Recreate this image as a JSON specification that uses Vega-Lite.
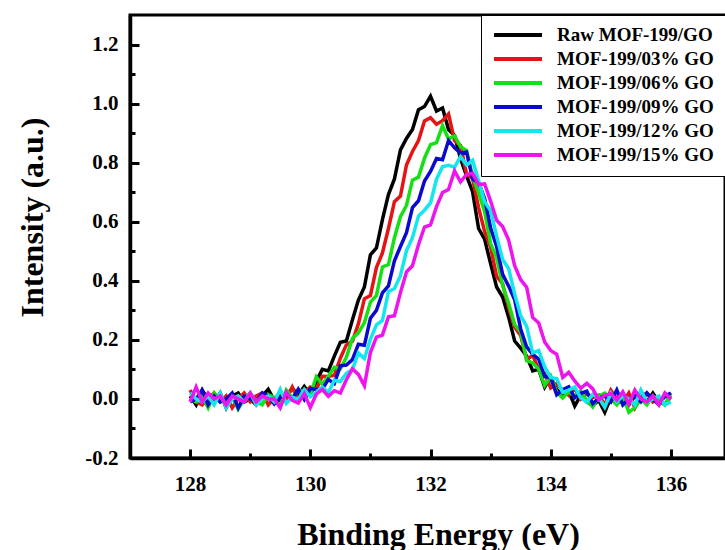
{
"$schema": "https://vega.github.io/schema/vega-lite/v6.json",
"width": 595,
"height": 443,
"autosize": {"type": "none"},
"padding": {"left": 130, "top": 15, "right": 0, "bottom": 92},
"background": "white",
"config": {"view": {"stroke": "black", "strokeWidth": 3}, "font": "Liberation Serif"},
"data": {"values": [
{"x":128.0,"Raw MOF-199/GO":0.01,"MOF-199/03% GO":0.03,"MOF-199/06% GO":0,"MOF-199/09% GO":-0.01,"MOF-199/12% GO":0.02,"MOF-199/15% GO":-0.01},
{"x":128.1,"Raw MOF-199/GO":-0.02,"MOF-199/03% GO":-0.01,"MOF-199/06% GO":-0.01,"MOF-199/09% GO":0,"MOF-199/12% GO":0,"MOF-199/15% GO":0.04},
{"x":128.2,"Raw MOF-199/GO":0.03,"MOF-199/03% GO":-0.02,"MOF-199/06% GO":0.01,"MOF-199/09% GO":0.03,"MOF-199/12% GO":-0.01,"MOF-199/15% GO":-0.01},
{"x":128.3,"Raw MOF-199/GO":0,"MOF-199/03% GO":0,"MOF-199/06% GO":-0.03,"MOF-199/09% GO":-0.02,"MOF-199/12% GO":0.01,"MOF-199/15% GO":0.02},
{"x":128.4,"Raw MOF-199/GO":-0.01,"MOF-199/03% GO":0.02,"MOF-199/06% GO":0.02,"MOF-199/09% GO":0.01,"MOF-199/12% GO":-0.02,"MOF-199/15% GO":0},
{"x":128.5,"Raw MOF-199/GO":0.02,"MOF-199/03% GO":-0.01,"MOF-199/06% GO":0,"MOF-199/09% GO":-0.01,"MOF-199/12% GO":0.02,"MOF-199/15% GO":0.01},
{"x":128.6,"Raw MOF-199/GO":-0.03,"MOF-199/03% GO":0.01,"MOF-199/06% GO":-0.01,"MOF-199/09% GO":0,"MOF-199/12% GO":-0.03,"MOF-199/15% GO":-0.02},
{"x":128.7,"Raw MOF-199/GO":0.01,"MOF-199/03% GO":-0.03,"MOF-199/06% GO":0.01,"MOF-199/09% GO":0.02,"MOF-199/12% GO":0,"MOF-199/15% GO":0.01},
{"x":128.8,"Raw MOF-199/GO":0.02,"MOF-199/03% GO":0,"MOF-199/06% GO":-0.035,"MOF-199/09% GO":-0.03,"MOF-199/12% GO":0.01,"MOF-199/15% GO":0},
{"x":128.9,"Raw MOF-199/GO":-0.01,"MOF-199/03% GO":0.02,"MOF-199/06% GO":0,"MOF-199/09% GO":0.01,"MOF-199/12% GO":-0.01,"MOF-199/15% GO":-0.01},
{"x":129.0,"Raw MOF-199/GO":0,"MOF-199/03% GO":-0.01,"MOF-199/06% GO":0.02,"MOF-199/09% GO":0,"MOF-199/12% GO":0.02,"MOF-199/15% GO":0.02},
{"x":129.1,"Raw MOF-199/GO":-0.02,"MOF-199/03% GO":0.01,"MOF-199/06% GO":-0.01,"MOF-199/09% GO":-0.01,"MOF-199/12% GO":-0.02,"MOF-199/15% GO":-0.01},
{"x":129.2,"Raw MOF-199/GO":0.01,"MOF-199/03% GO":0.02,"MOF-199/06% GO":-0.02,"MOF-199/09% GO":0.02,"MOF-199/12% GO":0,"MOF-199/15% GO":0.01},
{"x":129.3,"Raw MOF-199/GO":0.033,"MOF-199/03% GO":-0.02,"MOF-199/06% GO":0.014,"MOF-199/09% GO":0.01,"MOF-199/12% GO":0.01,"MOF-199/15% GO":0},
{"x":129.4,"Raw MOF-199/GO":-0.005,"MOF-199/03% GO":0.003,"MOF-199/06% GO":0.005,"MOF-199/09% GO":-0.017,"MOF-199/12% GO":-0.01,"MOF-199/15% GO":0},
{"x":129.5,"Raw MOF-199/GO":-0.012,"MOF-199/03% GO":0.015,"MOF-199/06% GO":-0.023,"MOF-199/09% GO":0.005,"MOF-199/12% GO":0.033,"MOF-199/15% GO":-0.03},
{"x":129.6,"Raw MOF-199/GO":0.011,"MOF-199/03% GO":-0.002,"MOF-199/06% GO":0.03,"MOF-199/09% GO":0.017,"MOF-199/12% GO":-0.015,"MOF-199/15% GO":0.023},
{"x":129.7,"Raw MOF-199/GO":0.036,"MOF-199/03% GO":0.04,"MOF-199/06% GO":0.004,"MOF-199/09% GO":-0.001,"MOF-199/12% GO":0.006,"MOF-199/15% GO":-0.005},
{"x":129.8,"Raw MOF-199/GO":0.013,"MOF-199/03% GO":-0.005,"MOF-199/06% GO":0.029,"MOF-199/09% GO":0.033,"MOF-199/12% GO":-0.001,"MOF-199/15% GO":-0.014},
{"x":129.9,"Raw MOF-199/GO":0.042,"MOF-199/03% GO":0.022,"MOF-199/06% GO":0.026,"MOF-199/09% GO":-0.002,"MOF-199/12% GO":0.032,"MOF-199/15% GO":0.018},
{"x":130.0,"Raw MOF-199/GO":0.014,"MOF-199/03% GO":0.04,"MOF-199/06% GO":0.014,"MOF-199/09% GO":0.035,"MOF-199/12% GO":0.007,"MOF-199/15% GO":-0.029},
{"x":130.1,"Raw MOF-199/GO":0.06,"MOF-199/03% GO":0.032,"MOF-199/06% GO":0.075,"MOF-199/09% GO":0.032,"MOF-199/12% GO":0.023,"MOF-199/15% GO":0.016},
{"x":130.2,"Raw MOF-199/GO":0.1,"MOF-199/03% GO":0.077,"MOF-199/06% GO":0.049,"MOF-199/09% GO":0.033,"MOF-199/12% GO":0.041,"MOF-199/15% GO":0.032},
{"x":130.3,"Raw MOF-199/GO":0.095,"MOF-199/03% GO":0.076,"MOF-199/06% GO":0.077,"MOF-199/09% GO":0.066,"MOF-199/12% GO":0.021,"MOF-199/15% GO":0.009},
{"x":130.4,"Raw MOF-199/GO":0.145,"MOF-199/03% GO":0.08,"MOF-199/06% GO":0.107,"MOF-199/09% GO":0.052,"MOF-199/12% GO":0.063,"MOF-199/15% GO":0.028},
{"x":130.5,"Raw MOF-199/GO":0.192,"MOF-199/03% GO":0.138,"MOF-199/06% GO":0.102,"MOF-199/09% GO":0.112,"MOF-199/12% GO":0.059,"MOF-199/15% GO":0.02},
{"x":130.6,"Raw MOF-199/GO":0.196,"MOF-199/03% GO":0.183,"MOF-199/06% GO":0.141,"MOF-199/09% GO":0.115,"MOF-199/12% GO":0.087,"MOF-199/15% GO":0.065},
{"x":130.7,"Raw MOF-199/GO":0.267,"MOF-199/03% GO":0.195,"MOF-199/06% GO":0.205,"MOF-199/09% GO":0.133,"MOF-199/12% GO":0.099,"MOF-199/15% GO":0.102},
{"x":130.8,"Raw MOF-199/GO":0.335,"MOF-199/03% GO":0.254,"MOF-199/06% GO":0.224,"MOF-199/09% GO":0.185,"MOF-199/12% GO":0.156,"MOF-199/15% GO":0.083},
{"x":130.9,"Raw MOF-199/GO":0.379,"MOF-199/03% GO":0.339,"MOF-199/06% GO":0.258,"MOF-199/09% GO":0.182,"MOF-199/12% GO":0.137,"MOF-199/15% GO":0.045},
{"x":131.0,"Raw MOF-199/GO":0.488,"MOF-199/03% GO":0.35,"MOF-199/06% GO":0.328,"MOF-199/09% GO":0.273,"MOF-199/12% GO":0.202,"MOF-199/15% GO":0.157},
{"x":131.1,"Raw MOF-199/GO":0.511,"MOF-199/03% GO":0.445,"MOF-199/06% GO":0.35,"MOF-199/09% GO":0.3,"MOF-199/12% GO":0.251,"MOF-199/15% GO":0.209},
{"x":131.2,"Raw MOF-199/GO":0.607,"MOF-199/03% GO":0.494,"MOF-199/06% GO":0.447,"MOF-199/09% GO":0.359,"MOF-199/12% GO":0.266,"MOF-199/15% GO":0.216},
{"x":131.3,"Raw MOF-199/GO":0.692,"MOF-199/03% GO":0.577,"MOF-199/06% GO":0.455,"MOF-199/09% GO":0.383,"MOF-199/12% GO":0.363,"MOF-199/15% GO":0.278},
{"x":131.4,"Raw MOF-199/GO":0.745,"MOF-199/03% GO":0.668,"MOF-199/06% GO":0.546,"MOF-199/09% GO":0.468,"MOF-199/12% GO":0.374,"MOF-199/15% GO":0.282},
{"x":131.5,"Raw MOF-199/GO":0.843,"MOF-199/03% GO":0.687,"MOF-199/06% GO":0.617,"MOF-199/09% GO":0.516,"MOF-199/12% GO":0.417,"MOF-199/15% GO":0.36},
{"x":131.6,"Raw MOF-199/GO":0.882,"MOF-199/03% GO":0.792,"MOF-199/06% GO":0.655,"MOF-199/09% GO":0.563,"MOF-199/12% GO":0.502,"MOF-199/15% GO":0.43},
{"x":131.7,"Raw MOF-199/GO":0.912,"MOF-199/03% GO":0.838,"MOF-199/06% GO":0.741,"MOF-199/09% GO":0.648,"MOF-199/12% GO":0.546,"MOF-199/15% GO":0.451},
{"x":131.8,"Raw MOF-199/GO":0.979,"MOF-199/03% GO":0.875,"MOF-199/06% GO":0.751,"MOF-199/09% GO":0.671,"MOF-199/12% GO":0.619,"MOF-199/15% GO":0.522},
{"x":131.9,"Raw MOF-199/GO":0.99,"MOF-199/03% GO":0.941,"MOF-199/06% GO":0.815,"MOF-199/09% GO":0.738,"MOF-199/12% GO":0.639,"MOF-199/15% GO":0.582},
{"x":132.0,"Raw MOF-199/GO":1.025,"MOF-199/03% GO":0.952,"MOF-199/06% GO":0.861,"MOF-199/09% GO":0.77,"MOF-199/12% GO":0.664,"MOF-199/15% GO":0.589},
{"x":132.1,"Raw MOF-199/GO":0.975,"MOF-199/03% GO":0.93,"MOF-199/06% GO":0.868,"MOF-199/09% GO":0.814,"MOF-199/12% GO":0.744,"MOF-199/15% GO":0.651},
{"x":132.2,"Raw MOF-199/GO":0.985,"MOF-199/03% GO":0.942,"MOF-199/06% GO":0.925,"MOF-199/09% GO":0.81,"MOF-199/12% GO":0.786,"MOF-199/15% GO":0.699},
{"x":132.3,"Raw MOF-199/GO":0.912,"MOF-199/03% GO":0.965,"MOF-199/06% GO":0.88,"MOF-199/09% GO":0.875,"MOF-199/12% GO":0.791,"MOF-199/15% GO":0.709},
{"x":132.4,"Raw MOF-199/GO":0.892,"MOF-199/03% GO":0.875,"MOF-199/06% GO":0.891,"MOF-199/09% GO":0.85,"MOF-199/12% GO":0.785,"MOF-199/15% GO":0.772},
{"x":132.5,"Raw MOF-199/GO":0.813,"MOF-199/03% GO":0.858,"MOF-199/06% GO":0.854,"MOF-199/09% GO":0.832,"MOF-199/12% GO":0.82,"MOF-199/15% GO":0.735},
{"x":132.6,"Raw MOF-199/GO":0.755,"MOF-199/03% GO":0.762,"MOF-199/06% GO":0.841,"MOF-199/09% GO":0.836,"MOF-199/12% GO":0.792,"MOF-199/15% GO":0.76},
{"x":132.7,"Raw MOF-199/GO":0.702,"MOF-199/03% GO":0.747,"MOF-199/06% GO":0.754,"MOF-199/09% GO":0.745,"MOF-199/12% GO":0.808,"MOF-199/15% GO":0.764},
{"x":132.8,"Raw MOF-199/GO":0.577,"MOF-199/03% GO":0.648,"MOF-199/06% GO":0.698,"MOF-199/09% GO":0.732,"MOF-199/12% GO":0.739,"MOF-199/15% GO":0.726},
{"x":132.9,"Raw MOF-199/GO":0.541,"MOF-199/03% GO":0.567,"MOF-199/06% GO":0.634,"MOF-199/09% GO":0.679,"MOF-199/12% GO":0.668,"MOF-199/15% GO":0.728},
{"x":133.0,"Raw MOF-199/GO":0.458,"MOF-199/03% GO":0.514,"MOF-199/06% GO":0.526,"MOF-199/09% GO":0.579,"MOF-199/12% GO":0.638,"MOF-199/15% GO":0.67},
{"x":133.1,"Raw MOF-199/GO":0.379,"MOF-199/03% GO":0.415,"MOF-199/06% GO":0.478,"MOF-199/09% GO":0.516,"MOF-199/12% GO":0.551,"MOF-199/15% GO":0.605},
{"x":133.2,"Raw MOF-199/GO":0.345,"MOF-199/03% GO":0.39,"MOF-199/06% GO":0.384,"MOF-199/09% GO":0.422,"MOF-199/12% GO":0.472,"MOF-199/15% GO":0.584},
{"x":133.3,"Raw MOF-199/GO":0.277,"MOF-199/03% GO":0.309,"MOF-199/06% GO":0.324,"MOF-199/09% GO":0.382,"MOF-199/12% GO":0.441,"MOF-199/15% GO":0.538},
{"x":133.4,"Raw MOF-199/GO":0.196,"MOF-199/03% GO":0.244,"MOF-199/06% GO":0.252,"MOF-199/09% GO":0.336,"MOF-199/12% GO":0.355,"MOF-199/15% GO":0.451},
{"x":133.5,"Raw MOF-199/GO":0.172,"MOF-199/03% GO":0.215,"MOF-199/06% GO":0.227,"MOF-199/09% GO":0.237,"MOF-199/12% GO":0.282,"MOF-199/15% GO":0.404},
{"x":133.6,"Raw MOF-199/GO":0.145,"MOF-199/03% GO":0.133,"MOF-199/06% GO":0.13,"MOF-199/09% GO":0.176,"MOF-199/12% GO":0.246,"MOF-199/15% GO":0.378},
{"x":133.7,"Raw MOF-199/GO":0.095,"MOF-199/03% GO":0.148,"MOF-199/06% GO":0.122,"MOF-199/09% GO":0.151,"MOF-199/12% GO":0.156,"MOF-199/15% GO":0.276},
{"x":133.8,"Raw MOF-199/GO":0.1,"MOF-199/03% GO":0.1,"MOF-199/06% GO":0.101,"MOF-199/09% GO":0.135,"MOF-199/12% GO":0.164,"MOF-199/15% GO":0.257},
{"x":133.9,"Raw MOF-199/GO":0.04,"MOF-199/03% GO":0.086,"MOF-199/06% GO":0.046,"MOF-199/09% GO":0.076,"MOF-199/12% GO":0.109,"MOF-199/15% GO":0.193},
{"x":134.0,"Raw MOF-199/GO":0.074,"MOF-199/03% GO":0.037,"MOF-199/06% GO":0.077,"MOF-199/09% GO":0.072,"MOF-199/12% GO":0.072,"MOF-199/15% GO":0.164},
{"x":134.1,"Raw MOF-199/GO":0.032,"MOF-199/03% GO":0.052,"MOF-199/06% GO":0.023,"MOF-199/09% GO":0.014,"MOF-199/12% GO":0.069,"MOF-199/15% GO":0.151},
{"x":134.2,"Raw MOF-199/GO":0.013,"MOF-199/03% GO":0.03,"MOF-199/06% GO":0.003,"MOF-199/09% GO":0.031,"MOF-199/12% GO":0.022,"MOF-199/15% GO":0.073},
{"x":134.3,"Raw MOF-199/GO":0.026,"MOF-199/03% GO":0.012,"MOF-199/06% GO":0.025,"MOF-199/09% GO":0.041,"MOF-199/12% GO":0.03,"MOF-199/15% GO":0.09},
{"x":134.4,"Raw MOF-199/GO":-0.024,"MOF-199/03% GO":0.035,"MOF-199/06% GO":0.01,"MOF-199/09% GO":0.004,"MOF-199/12% GO":0.04,"MOF-199/15% GO":0.061},
{"x":134.5,"Raw MOF-199/GO":0.013,"MOF-199/03% GO":0,"MOF-199/06% GO":0.026,"MOF-199/09% GO":0.019,"MOF-199/12% GO":0.004,"MOF-199/15% GO":0.036},
{"x":134.6,"Raw MOF-199/GO":-0.01,"MOF-199/03% GO":0.018,"MOF-199/06% GO":-0.005,"MOF-199/09% GO":0.026,"MOF-199/12% GO":-0.011,"MOF-199/15% GO":0.053},
{"x":134.7,"Raw MOF-199/GO":-0.022,"MOF-199/03% GO":0.005,"MOF-199/06% GO":-0.027,"MOF-199/09% GO":-0.016,"MOF-199/12% GO":0.016,"MOF-199/15% GO":0.034},
{"x":134.8,"Raw MOF-199/GO":-0.005,"MOF-199/03% GO":0.013,"MOF-199/06% GO":0.01,"MOF-199/09% GO":0.003,"MOF-199/12% GO":0.004,"MOF-199/15% GO":-0.003},
{"x":134.9,"Raw MOF-199/GO":-0.045,"MOF-199/03% GO":-0.02,"MOF-199/06% GO":0.02,"MOF-199/09% GO":0.01,"MOF-199/12% GO":-0.028,"MOF-199/15% GO":0.012},
{"x":135.0,"Raw MOF-199/GO":0.005,"MOF-199/03% GO":0.03,"MOF-199/06% GO":0,"MOF-199/09% GO":-0.01,"MOF-199/12% GO":0.02,"MOF-199/15% GO":0.018},
{"x":135.1,"Raw MOF-199/GO":-0.015,"MOF-199/03% GO":0,"MOF-199/06% GO":-0.02,"MOF-199/09% GO":0.03,"MOF-199/12% GO":-0.01,"MOF-199/15% GO":-0.004},
{"x":135.2,"Raw MOF-199/GO":-0.005,"MOF-199/03% GO":-0.01,"MOF-199/06% GO":0.01,"MOF-199/09% GO":-0.02,"MOF-199/12% GO":0.01,"MOF-199/15% GO":0.024},
{"x":135.3,"Raw MOF-199/GO":-0.02,"MOF-199/03% GO":0.02,"MOF-199/06% GO":-0.045,"MOF-199/09% GO":0,"MOF-199/12% GO":0,"MOF-199/15% GO":-0.018},
{"x":135.4,"Raw MOF-199/GO":0.01,"MOF-199/03% GO":-0.03,"MOF-199/06% GO":-0.03,"MOF-199/09% GO":0.01,"MOF-199/12% GO":-0.02,"MOF-199/15% GO":0.03},
{"x":135.5,"Raw MOF-199/GO":0,"MOF-199/03% GO":0.01,"MOF-199/06% GO":0,"MOF-199/09% GO":-0.01,"MOF-199/12% GO":0.03,"MOF-199/15% GO":0},
{"x":135.6,"Raw MOF-199/GO":-0.01,"MOF-199/03% GO":0.02,"MOF-199/06% GO":-0.02,"MOF-199/09% GO":0.02,"MOF-199/12% GO":-0.01,"MOF-199/15% GO":-0.01},
{"x":135.7,"Raw MOF-199/GO":0.02,"MOF-199/03% GO":-0.01,"MOF-199/06% GO":0.01,"MOF-199/09% GO":0,"MOF-199/12% GO":0,"MOF-199/15% GO":0.01},
{"x":135.8,"Raw MOF-199/GO":-0.01,"MOF-199/03% GO":0,"MOF-199/06% GO":-0.01,"MOF-199/09% GO":-0.02,"MOF-199/12% GO":0.01,"MOF-199/15% GO":-0.02},
{"x":135.9,"Raw MOF-199/GO":0.01,"MOF-199/03% GO":-0.02,"MOF-199/06% GO":-0.02,"MOF-199/09% GO":0.01,"MOF-199/12% GO":-0.02,"MOF-199/15% GO":0.02},
{"x":136.0,"Raw MOF-199/GO":0,"MOF-199/03% GO":0.01,"MOF-199/06% GO":0.02,"MOF-199/09% GO":0.02,"MOF-199/12% GO":-0.01,"MOF-199/15% GO":0}
]},
"transform": [{"fold": ["Raw MOF-199/GO","MOF-199/03% GO","MOF-199/06% GO","MOF-199/09% GO","MOF-199/12% GO","MOF-199/15% GO"], "as": ["series","intensity"]}],
"layer": [
{
"mark": {"type": "line", "strokeWidth": 3.5, "clip": true},
"encoding": {
"x": {"field": "x", "type": "quantitative", "scale": {"domain": [127, 136.9], "nice": false, "zero": false},
"axis": {"orient": "bottom", "values": [128,130,132,134,136], "ticks": false, "grid": false, "domainColor": "black", "domainWidth": 3.5, "labelFont": "Liberation Serif", "labelFontSize": 21, "labelFontWeight": "bold", "labelColor": "black", "labelPadding": 15, "labelFlush": false, "title": "Binding Energy (eV)", "titleFont": "Liberation Serif", "titleFontSize": 32, "titleFontWeight": "bold", "titleColor": "black", "titleX": 308, "titleY": 86, "titleBaseline": "alphabetic", "titleAlign": "center"}},
"y": {"field": "intensity", "type": "quantitative", "scale": {"domain": [-0.2, 1.3], "nice": false, "zero": false},
"axis": {"orient": "left", "values": [-0.2,0,0.2,0.4,0.6,0.8,1.0,1.2], "format": ".1f", "labelExpr": "replace(datum.label, '\u2212', '-')", "ticks": false, "grid": false, "domainColor": "black", "domainWidth": 3.5, "labelFont": "Liberation Serif", "labelFontSize": 21, "labelFontWeight": "bold", "labelColor": "black", "labelPadding": 12, "labelFlush": false, "title": "Intensity (a.u.)", "titleFont": "Liberation Serif", "titleFontSize": 32, "titleFontWeight": "bold", "titleColor": "black", "titleX": -88, "titleY": 202, "titleAngle": -90, "titleBaseline": "alphabetic", "titleAlign": "center"}},
"color": {"field": "series", "type": "nominal",
"scale": {"domain": ["Raw MOF-199/GO","MOF-199/03% GO","MOF-199/06% GO","MOF-199/09% GO","MOF-199/12% GO","MOF-199/15% GO"], "range": ["#000000","#e41414","#14e014","#0a0acc","#14e6ee","#ee14ee"]},
"legend": {"orient": "top-right", "offset": 0, "title": null, "fillColor": "white", "strokeColor": "black", "padding": 11, "symbolType": "stroke", "symbolSize": 2304, "symbolStrokeWidth": 4, "clipHeight": 18, "rowPadding": 5, "labelFont": "Liberation Serif", "labelFontSize": 19, "labelFontWeight": "bold", "labelColor": "black", "labelOffset": 13, "labelLimit": 300}}
}
},
{
"mark": {"type": "line", "strokeOpacity": 0},
"encoding": {
"x": {"field": "x", "type": "quantitative", "axis": {"orient": "bottom", "values": [128,130,132,134,136], "labels": false, "domain": false, "ticks": true, "tickSize": -9, "tickWidth": 3, "tickColor": "black", "grid": false, "title": null}},
"y": {"field": "intensity", "type": "quantitative", "axis": {"orient": "left", "values": [-0.2,0,0.2,0.4,0.6,0.8,1.0,1.2], "labels": false, "domain": false, "ticks": true, "tickSize": -9, "tickWidth": 3, "tickColor": "black", "grid": false, "title": null}}
}
},
{
"mark": {"type": "line", "strokeOpacity": 0},
"encoding": {
"x": {"field": "x", "type": "quantitative", "axis": {"orient": "bottom", "values": [129,131,133,135], "labels": false, "domain": false, "ticks": true, "tickSize": -5, "tickWidth": 3, "tickColor": "black", "grid": false, "title": null}},
"y": {"field": "intensity", "type": "quantitative", "axis": {"orient": "left", "values": [-0.1,0.1,0.3,0.5,0.7,0.9,1.1], "labels": false, "domain": false, "ticks": true, "tickSize": -5, "tickWidth": 3, "tickColor": "black", "grid": false, "title": null}}
}
}
],
"resolve": {"axis": {"x": "independent", "y": "independent"}}
}
